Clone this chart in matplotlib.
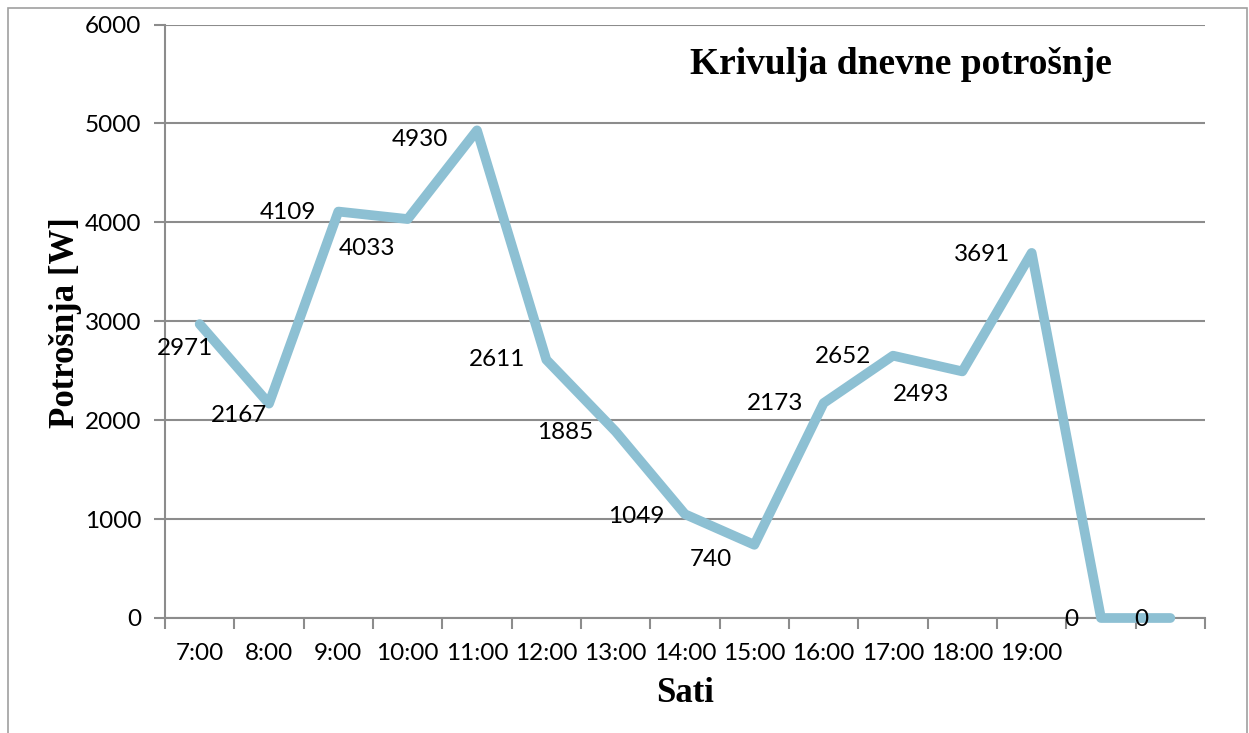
import matplotlib
matplotlib.use("Agg")
import matplotlib.pyplot as plt
from matplotlib.patches import Rectangle

categories = ["7:00", "8:00", "9:00", "10:00", "11:00", "12:00", "13:00", "14:00",
              "15:00", "16:00", "17:00", "18:00", "19:00", "", ""]
values = [2971, 2167, 4109, 4033, 4930, 2611, 1885, 1049, 740, 2173, 2652, 2493, 3691, 0, 0]
# label offsets (pixels) relative to each point, x right, y down as in picture
label_dx = [-15, -30, -50, -41, -57, -49, -50, -49, -43, -49, -50, -41, -50, -30, -29]
label_dy = [24, 12, 1, 29, 9, 0, 1, 2, 15, 0, 1, 23, 2, 2, 2]

title = "Krivulja dnevne potrošnje"
xlabel = "Sati"
ylabel = "Potrošnja [W]"

W, H = 1249, 733
fig = plt.figure(figsize=(W / 100, H / 100), dpi=100)
ax = fig.add_axes([165 / W, 1 - 618 / H, (1205 - 165) / W, (618 - 24.5) / H])

sans = ["Lato", "DejaVu Sans"]
serif = ["Liberation Serif", "DejaVu Serif"]
grid_c = "#8c8c8c"
line_c = "#8dc0d3"
FS = 17.5

x = list(range(len(values)))
ax.plot(x, values, color=line_c, lw=7, solid_joinstyle="round", solid_capstyle="round",
        zorder=3, clip_on=False)

for i, v in enumerate(values):
    ax.annotate(str(v), (i, v), xytext=(label_dx[i], -label_dy[i]), textcoords="offset pixels",
                ha="center", va="center", fontsize=FS, family=sans, color="black", zorder=4)

ax.set_xlim(-0.5, len(values) - 0.5)
ax.set_ylim(0, 6000)
ax.set_yticks(range(0, 6001, 1000))
ax.set_yticklabels([str(t) for t in range(0, 6001, 1000)], fontsize=FS, family=sans)
ax.set_xticks(x)
ax.set_xticklabels(categories, fontsize=FS, family=sans)
ax.set_xticks([i - 0.5 for i in range(len(values) + 1)], minor=True)
ax.tick_params(axis="x", which="major", length=0, pad=18)
ax.tick_params(axis="x", which="minor", length=8, width=1.5, color=grid_c, direction="out")
ax.tick_params(axis="y", which="major", length=8, width=1.5, color=grid_c, direction="out", pad=9)
ax.yaxis.grid(True, color=grid_c, lw=1.5)
ax.set_axisbelow(True)
for s in ["top", "right"]:
    ax.spines[s].set_visible(False)
for s in ["left", "bottom"]:
    ax.spines[s].set_color(grid_c)
    ax.spines[s].set_linewidth(1.5)

fig.text(901 / W, 1 - 65 / H, title, fontsize=27, fontweight="bold", family=serif,
         ha="center", va="center")
fig.text(685 / W, 1 - 694 / H, xlabel, fontsize=25, fontweight="bold", family=serif,
         ha="center", va="center")
fig.text(65 / W, 1 - 323 / H, ylabel, fontsize=25, fontweight="bold", family=serif,
         ha="center", va="center", rotation=90)

# outer chart border
fig.patches.append(Rectangle((8 / W, -0.1), (1247 - 8) / W, 1 - 8 / H + 0.1, transform=fig.transFigure,
                             fill=False, edgecolor="#a0a0a0", lw=1.2))

fig.savefig("out.png", dpi=100)
